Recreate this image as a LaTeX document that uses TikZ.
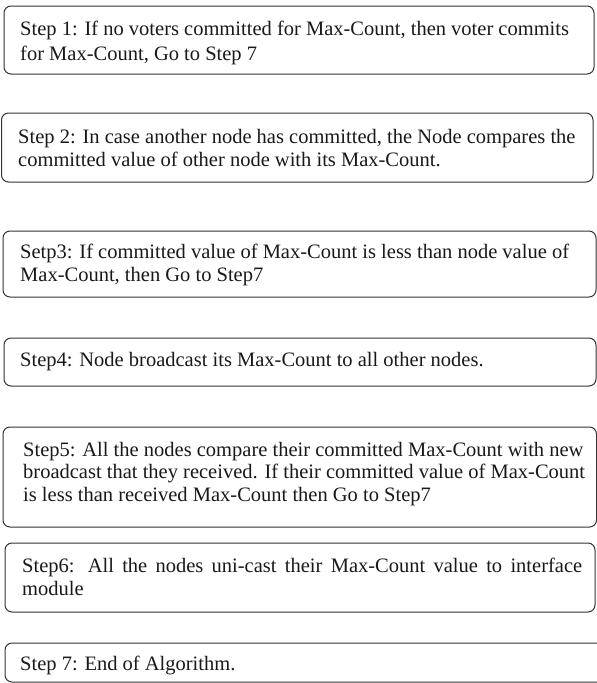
\documentclass[tikz,border=0pt]{standalone}
\usepackage{fontspec}
\setmainfont{Liberation Serif}
\begin{document}
\begin{tikzpicture}[x=1pt,y=-1pt,
  stepbox/.style={draw=black!80, line width=1pt, rounded corners=7pt},
  txt/.style={anchor=base west, inner sep=0pt, align=left, text=black!90,
    font=\fontsize{20.5}{23.5}\selectfont}]
\useasboundingbox (0,0) rectangle (597,683);
\begin{scope}
\clip (0,0) rectangle (597,683);
\draw[stepbox] (4,6) rectangle (594,74);
\draw[stepbox] (1.5,113) rectangle (593,182);
\draw[stepbox] (3,231) rectangle (596,297);
\draw[stepbox] (4,338) rectangle (596,386);
\draw[stepbox] (3,427) rectangle (596.5,527);
\draw[stepbox] (5,543) rectangle (595,612);
\draw[stepbox] (5,643) rectangle (604,682);
\end{scope}
\node[txt, font=\fontsize{20.5}{25}\selectfont] (t1) at (20,60.7) {Step 1: If no voters committed for Max-Count, then voter commits\\for Max-Count, Go to Step 7};
\node[txt] (t2) at (18,166.7) {Step 2: In case another node has committed, the Node compares the\\committed value of other node with its Max-Count.};
\node[txt] (t3) at (20,281.7) {Setp3: If committed value of Max-Count is less than node value of\\Max-Count, then Go to Step7};
\node[txt] (t4) at (20,366.7) {Step4: Node broadcast its Max-Count to all other nodes.};
\node[txt, font=\fontsize{20.5}{22.2}\selectfont] (t5) at (23,501) {Step5: All the nodes compare their committed Max-Count with new\\broadcast that they received. If their committed value of Max-Count\\is less than received Max-Count then Go to Step7};
\node[txt, font=\fontsize{20.5}{22.3}\selectfont] (t6) at (22,595) {\makebox[560pt][s]{Step6: All the nodes uni-cast their Max-Count value to interface}\\module};
\node[txt] (t7) at (20,670) {Step 7: End of Algorithm.};
\end{tikzpicture}
\end{document}
